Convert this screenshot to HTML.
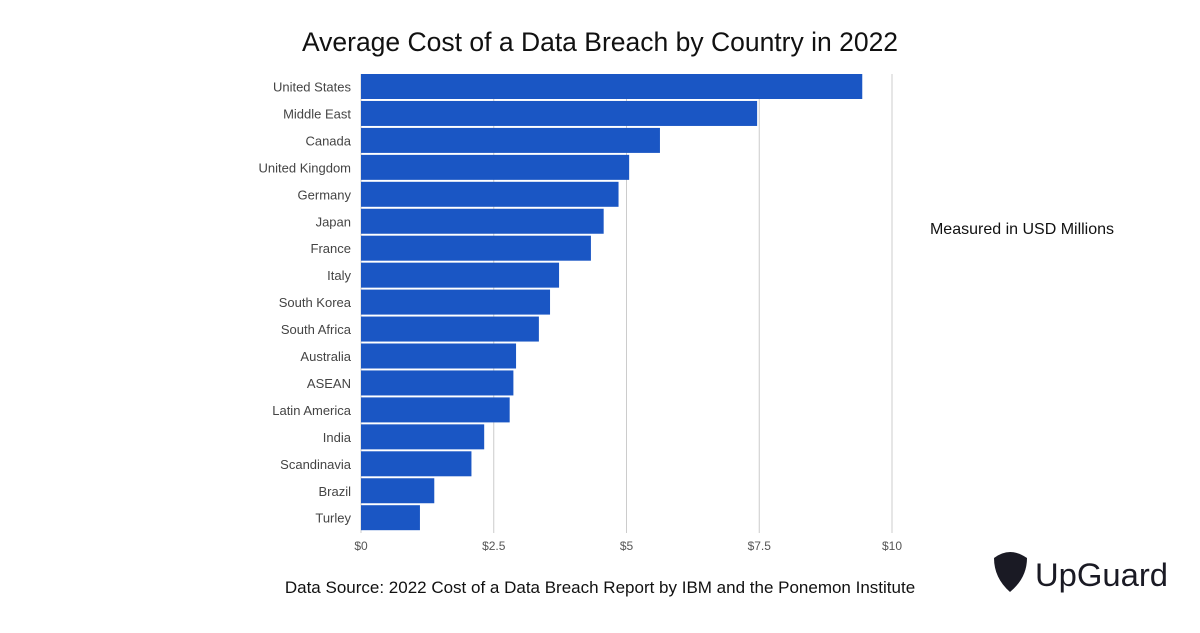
<!DOCTYPE html>
<html><head><meta charset="utf-8"><style>
body{margin:0;background:#fff;width:1200px;height:628px;overflow:hidden;font-family:"Liberation Sans",sans-serif}
</style></head><body>
<svg width="1200" height="628" xmlns="http://www.w3.org/2000/svg">
<text x="600" y="51" text-anchor="middle" font-size="26.5" fill="#111">Average Cost of a Data Breach by Country in 2022</text>
<g id="grid"></g><g id="bars"></g><g id="ylabels"></g><g id="xticks"></g>
<text x="1022" y="234" text-anchor="middle" font-size="16" fill="#111">Measured in USD Millions</text>
<text x="600" y="593" text-anchor="middle" font-size="17" fill="#111">Data Source: 2022 Cost of a Data Breach Report by IBM and the Ponemon Institute</text>
<g>
<path d="M994,558 Q1010,546 1027,558 Q1027,578 1010,592 Q994,578 994,558 Z" fill="#1a1a24"/>
<text x="1035" y="586" font-size="32" fill="#1a1a24" textLength="133" lengthAdjust="spacingAndGlyphs">UpGuard</text>
</g>
</svg>
<script>
const categories=["United States","Middle East","Canada","United Kingdom","Germany","Japan","France","Italy","South Korea","South Africa","Australia","ASEAN","Latin America","India","Scandinavia","Brazil","Turley"];
const values=[9.44,7.46,5.63,5.05,4.85,4.57,4.33,3.73,3.56,3.35,2.92,2.87,2.80,2.32,2.08,1.38,1.11];
const tickValues=[0,2.5,5,7.5,10];
const tickLabels=["$0","$2.5","$5","$7.5","$10"];
const NS="http://www.w3.org/2000/svg";
const X0=361,X1=892,TOP=74,PITCH=26.95,BH=25;
const xs=v=>X0+(X1-X0)*v/10;
function mk(t,a,p){const e=document.createElementNS(NS,t);for(const k in a)e.setAttribute(k,a[k]);document.getElementById(p).appendChild(e);return e;}
tickValues.forEach((v,i)=>{
 const l=mk('line',{x1:xs(v),x2:xs(v),y1:TOP,y2:533,stroke:'#ccc','stroke-width':1},'grid');
 
 
 const t=mk('text',{x:xs(v),y:550,'text-anchor':'middle','font-size':12,fill:'#555'},'xticks');
 t.textContent=tickLabels[i];
 
 
});
categories.forEach((c,i)=>{
 const y=TOP+i*PITCH;
 const r=mk('rect',{x:X0,y:y,width:xs(values[i])-X0,height:BH,fill:'#1a56c4'},'bars');
 
 
 const t=mk('text',{x:351,y:y+BH/2+5,'text-anchor':'end','font-size':13,fill:'#444'},'ylabels');
 t.textContent=c;
 
 
});
</script>
</body></html>
